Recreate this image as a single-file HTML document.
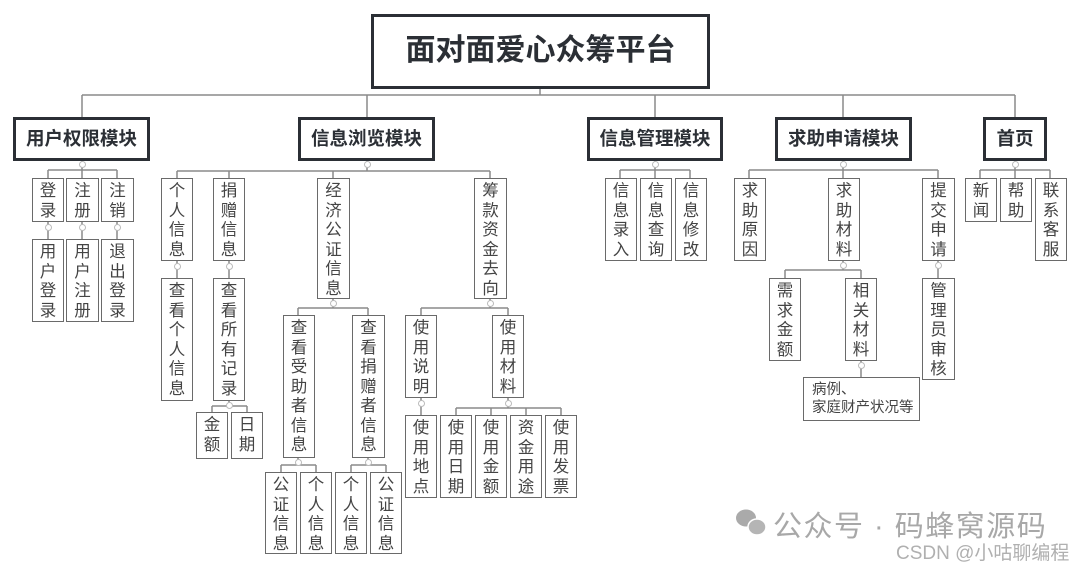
<!DOCTYPE html>
<html><head><meta charset="utf-8"><style>
html,body{margin:0;padding:0;background:#fff;}
body{width:1080px;height:568px;position:relative;overflow:hidden;font-family:"Liberation Sans","Noto Sans CJK SC",sans-serif;}
.b{position:absolute;box-sizing:border-box;border:1.5px solid #6a6a6a;background:#fff;color:#444;font-size:16.5px;line-height:19.5px;text-align:center;padding-top:3px;}
.m{position:absolute;box-sizing:border-box;border:3.5px solid #2b2f35;background:#fff;color:#2b2f35;font-weight:bold;font-size:18.5px;text-align:center;line-height:37px;}
svg{position:absolute;left:0;top:0;}
.c{position:absolute;width:7px;height:7px;border:1px solid #bbb;border-radius:50%;background:#fff;box-sizing:border-box;}
</style></head><body>
<svg width="1080" height="568" stroke="#8a8a8a" stroke-width="1.5" fill="none">
<path d="M540 89V95 M82 95H1015 M82 95V117 M367 95V117 M655 95V117 M843 95V117 M1015 95V117"/>
<path d="M82 160V170 M48 170H117 M48 170V178 M82 170V178 M117 170V178 M48 221V239 M82 221V239 M117 221V239"/>
<path d="M367 160V171 M177 171H490 M177 171V178 M229 171V178 M333 171V178 M490 171V178"/>
<path d="M177 260V278 M229 260V278 M229 400V406 M212 406H247 M212 406V412 M247 406V412"/>
<path d="M333 298V308 M298 308H368 M298 308V315 M368 308V315"/>
<path d="M298 457V465 M281 465H316 M281 465V472 M316 465V472 M368 457V465 M351 465H386 M351 465V472 M386 465V472"/>
<path d="M490 298V308 M421 308H508 M421 308V315 M508 308V315 M421 397V415 M508 397V408 M456 408H561 M456 408V415 M491 408V415 M526 408V415 M561 408V415"/>
<path d="M655 160V170 M620 170H690 M620 170V178 M655 170V178 M690 170V178"/>
<path d="M843 160V170 M749 170H938 M749 170V178 M843 170V178 M938 170V178"/>
<path d="M843 260V270 M785 270H861 M785 270V278 M861 270V278 M861 360V377 M938 260V278"/>
<path d="M1015 160V170 M980 170H1050 M980 170V178 M1015 170V178 M1050 170V178"/>
</svg>

<div class="m" style="left:371px;top:14px;width:339px;height:75px;font-size:30px;line-height:68px;">面对面爱心众筹平台</div>
<div class="m" style="left:13px;top:117px;width:137px;height:44px;">用户权限模块</div>
<div class="m" style="left:298px;top:117px;width:137px;height:44px;">信息浏览模块</div>
<div class="m" style="left:587px;top:117px;width:136px;height:44px;">信息管理模块</div>
<div class="m" style="left:775px;top:117px;width:137px;height:44px;">求助申请模块</div>
<div class="m" style="left:983px;top:117px;width:64px;height:44px;">首页</div>

<div class="b" style="left:32px;top:178px;width:32px;height:44px;">登<br>录</div>
<div class="b" style="left:66px;top:178px;width:33px;height:44px;">注<br>册</div>
<div class="b" style="left:101px;top:178px;width:33px;height:44px;">注<br>销</div>
<div class="b" style="left:32px;top:239px;width:32px;height:83px;">用<br>户<br>登<br>录</div>
<div class="b" style="left:66px;top:239px;width:33px;height:83px;">用<br>户<br>注<br>册</div>
<div class="b" style="left:101px;top:239px;width:33px;height:83px;">退<br>出<br>登<br>录</div>

<div class="b" style="left:161px;top:178px;width:32px;height:83px;">个<br>人<br>信<br>息</div>
<div class="b" style="left:213px;top:178px;width:32px;height:83px;">捐<br>赠<br>信<br>息</div>
<div class="b" style="left:317px;top:178px;width:33px;height:121px;">经<br>济<br>公<br>证<br>信<br>息</div>
<div class="b" style="left:474px;top:178px;width:33px;height:121px;">筹<br>款<br>资<br>金<br>去<br>向</div>
<div class="b" style="left:161px;top:278px;width:32px;height:123px;">查<br>看<br>个<br>人<br>信<br>息</div>
<div class="b" style="left:213px;top:278px;width:32px;height:123px;">查<br>看<br>所<br>有<br>记<br>录</div>
<div class="b" style="left:196px;top:412px;width:32px;height:47px;">金<br>额</div>
<div class="b" style="left:231px;top:412px;width:32px;height:47px;">日<br>期</div>
<div class="b" style="left:283px;top:315px;width:32px;height:143px;">查<br>看<br>受<br>助<br>者<br>信<br>息</div>
<div class="b" style="left:352px;top:315px;width:33px;height:143px;">查<br>看<br>捐<br>赠<br>者<br>信<br>息</div>
<div class="b" style="left:265px;top:472px;width:32px;height:82px;">公<br>证<br>信<br>息</div>
<div class="b" style="left:300px;top:472px;width:32px;height:82px;">个<br>人<br>信<br>息</div>
<div class="b" style="left:335px;top:472px;width:32px;height:82px;">个<br>人<br>信<br>息</div>
<div class="b" style="left:370px;top:472px;width:32px;height:82px;">公<br>证<br>信<br>息</div>
<div class="b" style="left:405px;top:315px;width:32px;height:83px;">使<br>用<br>说<br>明</div>
<div class="b" style="left:492px;top:315px;width:32px;height:83px;">使<br>用<br>材<br>料</div>
<div class="b" style="left:405px;top:415px;width:32px;height:83px;">使<br>用<br>地<br>点</div>
<div class="b" style="left:440px;top:415px;width:32px;height:83px;">使<br>用<br>日<br>期</div>
<div class="b" style="left:475px;top:415px;width:32px;height:83px;">使<br>用<br>金<br>额</div>
<div class="b" style="left:510px;top:415px;width:32px;height:83px;">资<br>金<br>用<br>途</div>
<div class="b" style="left:545px;top:415px;width:32px;height:83px;">使<br>用<br>发<br>票</div>

<div class="b" style="left:605px;top:178px;width:32px;height:83px;">信<br>息<br>录<br>入</div>
<div class="b" style="left:640px;top:178px;width:32px;height:83px;">信<br>息<br>查<br>询</div>
<div class="b" style="left:675px;top:178px;width:32px;height:83px;">信<br>息<br>修<br>改</div>

<div class="b" style="left:734px;top:178px;width:32px;height:83px;">求<br>助<br>原<br>因</div>
<div class="b" style="left:828px;top:178px;width:32px;height:83px;">求<br>助<br>材<br>料</div>
<div class="b" style="left:922px;top:178px;width:33px;height:83px;">提<br>交<br>申<br>请</div>
<div class="b" style="left:769px;top:278px;width:32px;height:83px;">需<br>求<br>金<br>额</div>
<div class="b" style="left:845px;top:278px;width:32px;height:83px;">相<br>关<br>材<br>料</div>
<div class="b" style="left:922px;top:278px;width:33px;height:102px;">管<br>理<br>员<br>审<br>核</div>
<div class="b" style="left:803px;top:377px;width:117px;height:44px;text-align:left;padding-left:8px;font-size:14.5px;line-height:18px;">病例、<br>家庭财产状况等</div>

<div class="b" style="left:965px;top:178px;width:32px;height:44px;">新<br>闻</div>
<div class="b" style="left:1000px;top:178px;width:32px;height:44px;">帮<br>助</div>
<div class="b" style="left:1035px;top:178px;width:32px;height:83px;">联<br>系<br>客<br>服</div>

<div class="c" style="left:79px;top:161px"></div>
<div class="c" style="left:364px;top:161px"></div>
<div class="c" style="left:652px;top:161px"></div>
<div class="c" style="left:840px;top:161px"></div>
<div class="c" style="left:1012px;top:161px"></div>
<div class="c" style="left:45px;top:224px"></div>
<div class="c" style="left:79px;top:224px"></div>
<div class="c" style="left:114px;top:224px"></div>
<div class="c" style="left:174px;top:263px"></div>
<div class="c" style="left:226px;top:263px"></div>
<div class="c" style="left:226px;top:402px"></div>
<div class="c" style="left:330px;top:300px"></div>
<div class="c" style="left:487px;top:300px"></div>
<div class="c" style="left:295px;top:459px"></div>
<div class="c" style="left:365px;top:459px"></div>
<div class="c" style="left:418px;top:400px"></div>
<div class="c" style="left:505px;top:400px"></div>
<div class="c" style="left:840px;top:262px"></div>
<div class="c" style="left:935px;top:262px"></div>
<div class="c" style="left:858px;top:362px"></div>

<svg width="1080" height="568" style="position:absolute;left:0;top:0">
<ellipse cx="746" cy="518" rx="10" ry="8.5" fill="#aaa"/>
<ellipse cx="757" cy="527" rx="9" ry="8" fill="#b5b5b5" stroke="#fff" stroke-width="1.5"/>
</svg>
<div style="position:absolute;left:773px;top:503px;font-size:29px;color:#a8a8a8;letter-spacing:1.5px;white-space:nowrap;">公众号 · 码蜂窝源码</div>
<div style="position:absolute;left:896px;top:538px;font-size:19px;color:#b0b0b0;white-space:nowrap;">CSDN @小咕聊编程</div>
</body></html>
